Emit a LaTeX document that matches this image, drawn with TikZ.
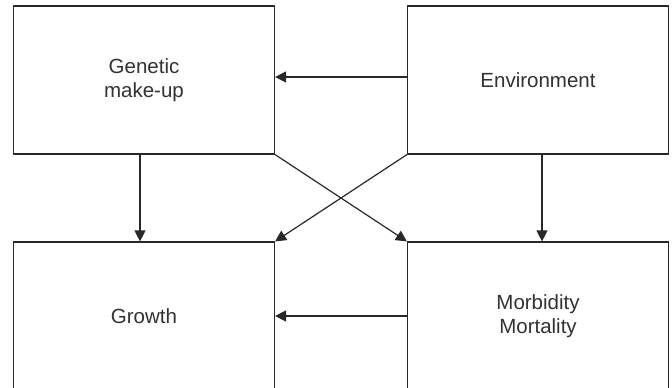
\documentclass[tikz,border=0pt]{standalone}
\usepackage{fontspec}
\setmainfont{Liberation Sans}
\usepackage{tikz}
\usetikzlibrary{positioning,arrows.meta}
\usepackage{xcolor}
\definecolor{inkgrey}{RGB}{40, 40, 40}
\definecolor{textgrey}{RGB}{50, 50, 50}

\begin{document}
\begin{tikzpicture}[
    x=1pt, y=-1pt,
    font=\fontsize{20.5}{24}\selectfont,
    box/.style={draw=inkgrey, line width=1.2pt, rectangle, align=center,
                text=textgrey, minimum width=261pt, minimum height=148pt,
                inner sep=0pt},
    link/.style={draw=inkgrey, line width=1.2pt,
                 -{Triangle[length=11pt, width=11pt]}},
  ]
    \clip (0,0) rectangle (672,388);
    \fill[white] (0,0) rectangle (672,388);

    \node[box] (genetic) at (144,80) {Genetic\\make-up};
    \node[box] (environ) at (538,80) {Environment};
    \node[box] (growth)  at (144,316) {Growth};
    \node[box] (morbid)  at (538,316) {Morbidity\\Mortality};

    \draw[link] ([yshift=3pt]environ.west) -- ([yshift=3pt]genetic.east);
    \draw[link] (morbid.west) -- (growth.east);
    \draw[link] ([xshift=-4pt]genetic.south) -- ([xshift=-4pt]growth.north);
    \draw[link] ([xshift=4pt]environ.south) -- ([xshift=4pt]morbid.north);
    \draw[link] (genetic.south east) -- (morbid.north west);
    \draw[link] (environ.south west) -- (growth.north east);
  \end{tikzpicture}
\end{document}
